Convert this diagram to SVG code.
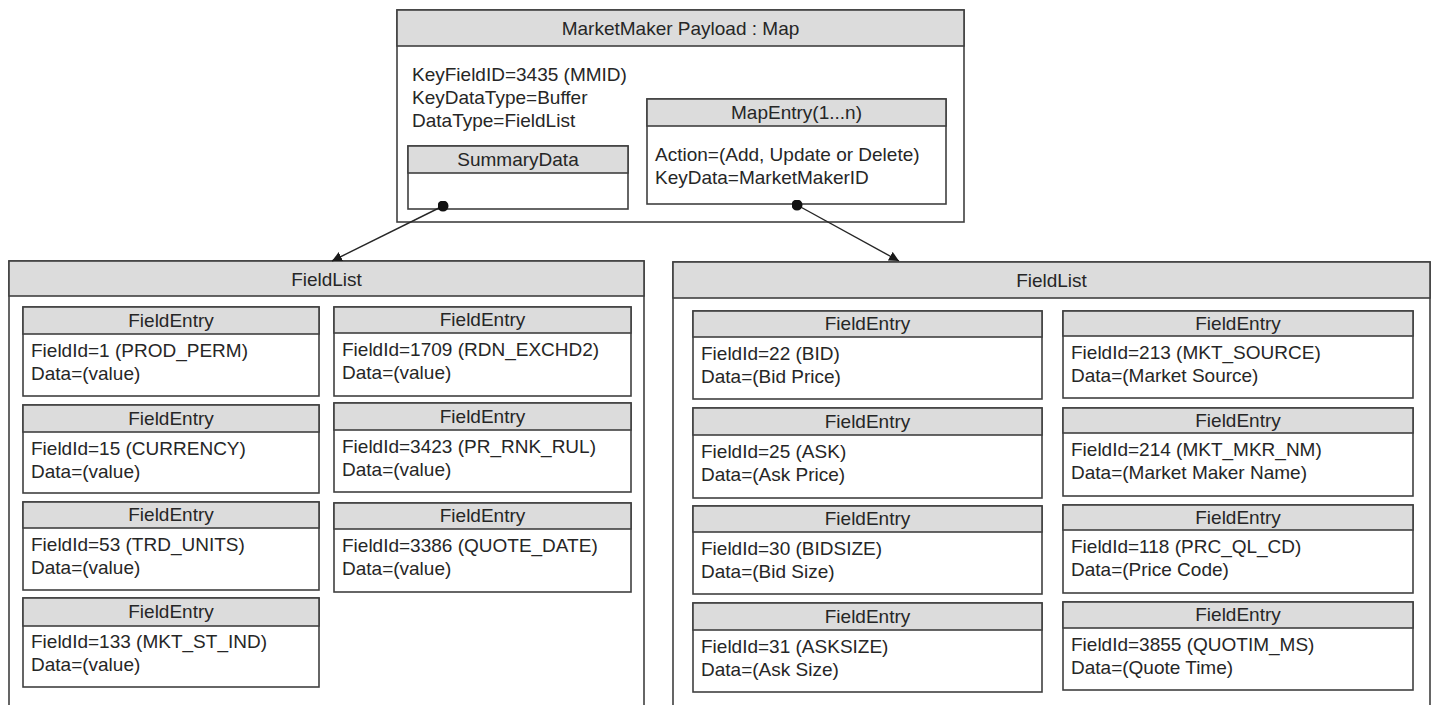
<svg xmlns="http://www.w3.org/2000/svg" width="1432" height="705" viewBox="0 0 1432 705">
<style>
  .box{fill:#ffffff;stroke:#404040;stroke-width:1.6}
  .hdr{fill:#dcdcdc;stroke:#404040;stroke-width:1.6}
  text{font-family:"Liberation Sans",Arial,sans-serif;font-size:19px;fill:#262626}
  .c{text-anchor:middle}
  .conn{stroke:#262626;stroke-width:1.4;fill:none}
</style>
<defs>
  <marker id="arr" viewBox="0 0 10 10" refX="10" refY="5" markerWidth="10" markerHeight="10" markerUnits="userSpaceOnUse" orient="auto">
    <path d="M0,0 L10,5 L0,10 Z" fill="#1a1a1a"/>
  </marker>
  <marker id="dot" viewBox="0 0 10 10" refX="5" refY="5" markerWidth="11" markerHeight="11" markerUnits="userSpaceOnUse">
    <circle cx="5" cy="5" r="5" fill="#111111"/>
  </marker>
</defs>
<rect width="1432" height="705" fill="#ffffff"/>

<g id="payload">
  <rect class="box" x="397" y="10" width="567" height="212"/>
  <rect class="hdr" x="397" y="10" width="567" height="36"/>
  <text class="c" x="680.5" y="35">MarketMaker Payload : Map</text>
  <text x="412" y="81">KeyFieldID=3435 (MMID)</text>
  <text x="412" y="104">KeyDataType=Buffer</text>
  <text x="412" y="127">DataType=FieldList</text>
</g>
<g id="summarydata">
  <rect class="box" x="408" y="146" width="220" height="63"/>
  <rect class="hdr" x="408" y="146" width="220" height="27"/>
  <text class="c" x="518" y="166">SummaryData</text>
</g>
<g id="mapentry">
  <rect class="box" x="647" y="99" width="299" height="105"/>
  <rect class="hdr" x="647" y="99" width="299" height="27"/>
  <text class="c" x="796.5" y="119">MapEntry(1...n)</text>
  <text x="655" y="161">Action=(Add, Update or Delete)</text>
  <text x="655" y="184">KeyData=MarketMakerID</text>
</g>

<g id="fieldlist-left">
  <rect class="box" x="9" y="261" width="635" height="460"/>
  <rect class="hdr" x="9" y="261" width="635" height="35"/>
  <text class="c" x="326.5" y="286">FieldList</text>
</g>
<g id="fieldlist-right">
  <rect class="box" x="673" y="262" width="757" height="460"/>
  <rect class="hdr" x="673" y="262" width="757" height="36"/>
  <text class="c" x="1051.5" y="287">FieldList</text>
</g>

<g id="fe-l1">
  <rect class="box" x="23" y="307" width="296" height="89"/>
  <rect class="hdr" x="23" y="307" width="296" height="27"/>
  <text class="c" x="171" y="327">FieldEntry</text>
  <text x="31" y="357">FieldId=1 (PROD_PERM)</text>
  <text x="31" y="380">Data=(value)</text>
</g>
<g id="fe-l2">
  <rect class="box" x="23" y="405" width="296" height="88"/>
  <rect class="hdr" x="23" y="405" width="296" height="27"/>
  <text class="c" x="171" y="425">FieldEntry</text>
  <text x="31" y="455">FieldId=15 (CURRENCY)</text>
  <text x="31" y="478">Data=(value)</text>
</g>
<g id="fe-l3">
  <rect class="box" x="23" y="502" width="296" height="88"/>
  <rect class="hdr" x="23" y="502" width="296" height="26"/>
  <text class="c" x="171" y="521">FieldEntry</text>
  <text x="31" y="551">FieldId=53 (TRD_UNITS)</text>
  <text x="31" y="574">Data=(value)</text>
</g>
<g id="fe-l4">
  <rect class="box" x="23" y="598" width="296" height="89"/>
  <rect class="hdr" x="23" y="598" width="296" height="28"/>
  <text class="c" x="171" y="618">FieldEntry</text>
  <text x="31" y="648">FieldId=133 (MKT_ST_IND)</text>
  <text x="31" y="671">Data=(value)</text>
</g>
<g id="fe-l5">
  <rect class="box" x="334" y="307" width="297" height="89"/>
  <rect class="hdr" x="334" y="307" width="297" height="26"/>
  <text class="c" x="482.5" y="326">FieldEntry</text>
  <text x="342" y="356">FieldId=1709 (RDN_EXCHD2)</text>
  <text x="342" y="379">Data=(value)</text>
</g>
<g id="fe-l6">
  <rect class="box" x="334" y="403" width="297" height="89"/>
  <rect class="hdr" x="334" y="403" width="297" height="27"/>
  <text class="c" x="482.5" y="423">FieldEntry</text>
  <text x="342" y="453">FieldId=3423 (PR_RNK_RUL)</text>
  <text x="342" y="476">Data=(value)</text>
</g>
<g id="fe-l7">
  <rect class="box" x="334" y="503" width="297" height="89"/>
  <rect class="hdr" x="334" y="503" width="297" height="26"/>
  <text class="c" x="482.5" y="522">FieldEntry</text>
  <text x="342" y="552">FieldId=3386 (QUOTE_DATE)</text>
  <text x="342" y="575">Data=(value)</text>
</g>

<g id="fe-r1">
  <rect class="box" x="693" y="311" width="349" height="88"/>
  <rect class="hdr" x="693" y="311" width="349" height="26"/>
  <text class="c" x="867.5" y="330">FieldEntry</text>
  <text x="701" y="360">FieldId=22 (BID)</text>
  <text x="701" y="383">Data=(Bid Price)</text>
</g>
<g id="fe-r2">
  <rect class="box" x="693" y="408" width="349" height="90"/>
  <rect class="hdr" x="693" y="408" width="349" height="27"/>
  <text class="c" x="867.5" y="428">FieldEntry</text>
  <text x="701" y="458">FieldId=25 (ASK)</text>
  <text x="701" y="481">Data=(Ask Price)</text>
</g>
<g id="fe-r3">
  <rect class="box" x="693" y="506" width="349" height="88"/>
  <rect class="hdr" x="693" y="506" width="349" height="26"/>
  <text class="c" x="867.5" y="525">FieldEntry</text>
  <text x="701" y="555">FieldId=30 (BIDSIZE)</text>
  <text x="701" y="578">Data=(Bid Size)</text>
</g>
<g id="fe-r4">
  <rect class="box" x="693" y="603" width="349" height="89"/>
  <rect class="hdr" x="693" y="603" width="349" height="27"/>
  <text class="c" x="867.5" y="623">FieldEntry</text>
  <text x="701" y="653">FieldId=31 (ASKSIZE)</text>
  <text x="701" y="676">Data=(Ask Size)</text>
</g>
<g id="fe-r5">
  <rect class="box" x="1063" y="311" width="350" height="87"/>
  <rect class="hdr" x="1063" y="311" width="350" height="25"/>
  <text class="c" x="1238" y="330">FieldEntry</text>
  <text x="1071" y="359">FieldId=213 (MKT_SOURCE)</text>
  <text x="1071" y="382">Data=(Market Source)</text>
</g>
<g id="fe-r6">
  <rect class="box" x="1063" y="408" width="350" height="88"/>
  <rect class="hdr" x="1063" y="408" width="350" height="25"/>
  <text class="c" x="1238" y="427">FieldEntry</text>
  <text x="1071" y="456">FieldId=214 (MKT_MKR_NM)</text>
  <text x="1071" y="479">Data=(Market Maker Name)</text>
</g>
<g id="fe-r7">
  <rect class="box" x="1063" y="505" width="350" height="88"/>
  <rect class="hdr" x="1063" y="505" width="350" height="25"/>
  <text class="c" x="1238" y="524">FieldEntry</text>
  <text x="1071" y="553">FieldId=118 (PRC_QL_CD)</text>
  <text x="1071" y="576">Data=(Price Code)</text>
</g>
<g id="fe-r8">
  <rect class="box" x="1063" y="602" width="350" height="88"/>
  <rect class="hdr" x="1063" y="602" width="350" height="26"/>
  <text class="c" x="1238" y="621">FieldEntry</text>
  <text x="1071" y="651">FieldId=3855 (QUOTIM_MS)</text>
  <text x="1071" y="674">Data=(Quote Time)</text>
</g>

<g id="connectors">
  <line class="conn" x1="443" y1="206" x2="332" y2="261" marker-start="url(#dot)" marker-end="url(#arr)"/>
  <line class="conn" x1="797" y1="205" x2="899" y2="261" marker-start="url(#dot)" marker-end="url(#arr)"/>
</g>
</svg>
